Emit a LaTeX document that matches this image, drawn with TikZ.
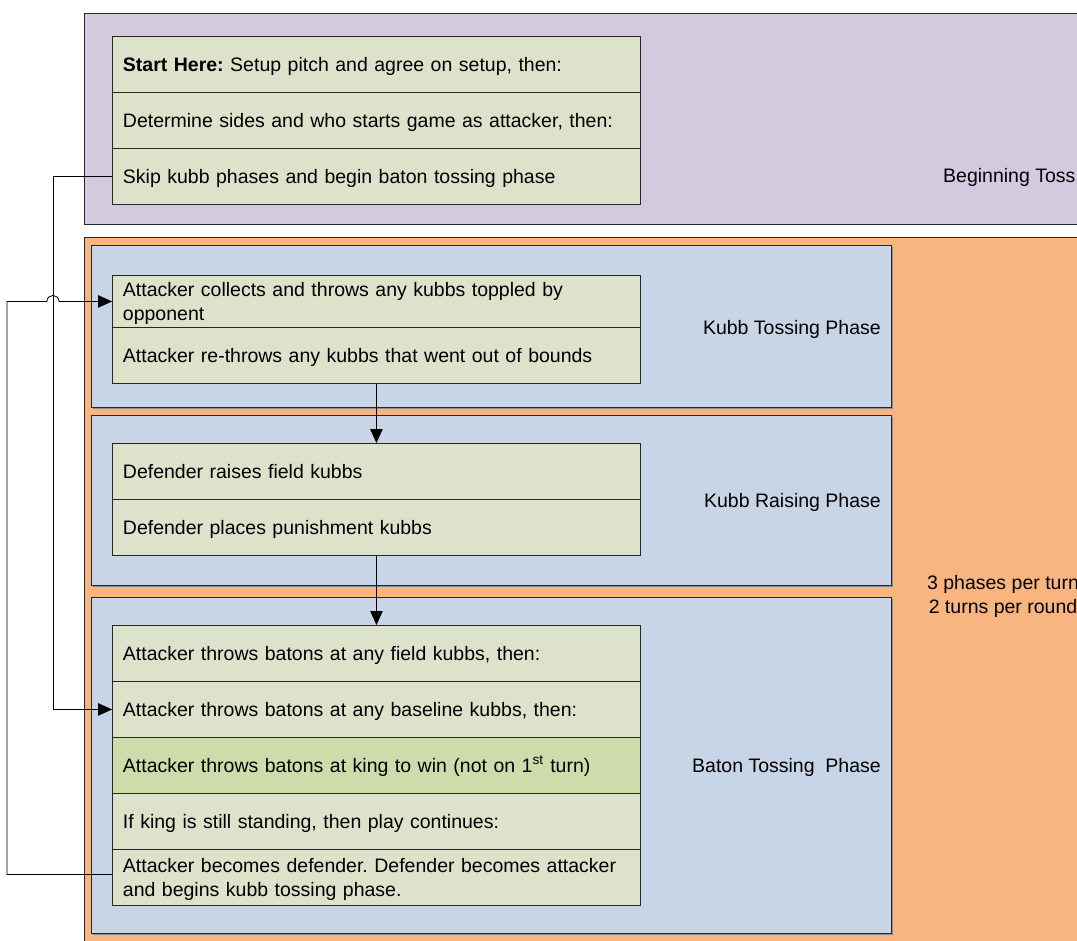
\documentclass[tikz,border=0pt]{standalone}
\usepackage{fontspec}
\setmainfont{Liberation Sans}
\usetikzlibrary{arrows.meta}
\definecolor{purplefill}{RGB}{211,202,224}
\definecolor{orangefill}{RGB}{248,181,128}
\definecolor{bluefill}{RGB}{200,213,230}
\definecolor{greenfill}{RGB}{221,226,203}
\definecolor{greenhi}{RGB}{205,220,170}
\definecolor{edge}{RGB}{40,40,40}
\newcommand\rowfont{\fontsize{19.5}{23.5}\selectfont}
\frenchspacing
\tikzset{
  region/.style={draw=edge, line width=1pt},
  phasebox/.style={draw=edge, fill=bluefill, line width=1pt},
  phaseshadow/.style={fill=black!45},
  row/.style={draw=edge, fill=greenfill, line width=0.9pt, anchor=north west,
    minimum width=528pt, text width=507pt, inner xsep=10.5pt, inner ysep=0pt,
    align=left, font=\rowfont, minimum height=56pt,
    execute at begin node={\rule{0pt}{18pt}},
    execute at end node={\rule[-4pt]{0pt}{4pt}}},
  lbl/.style={font=\rowfont, inner sep=0pt},
  conn/.style={draw=black, line width=0.8pt, -{Triangle[length=14pt,width=12.5pt]}}
}
\begin{document}
\begin{tikzpicture}[x=1pt,y=-1pt]
\clip (0,0) rectangle (1077,941);
\fill[white] (0,0) rectangle (1077,941);
% regions
\draw[region, fill=purplefill] (84,14) rectangle (1100,225);
\draw[region, fill=orangefill] (84,238) rectangle (1100,960);
% phase boxes
\fill[phaseshadow] (92.5,247.5) rectangle (892.5,409.5);
\draw[phasebox] (91,246) rectangle (891,408);
\fill[phaseshadow] (92.5,417.5) rectangle (892.5,586.5);
\draw[phasebox] (91,416) rectangle (891,585);
\fill[phaseshadow] (92.5,598.5) rectangle (892.5,934.5);
\draw[phasebox] (91,597) rectangle (891,933);
% beginning stack
\node[row] (s1) at (112,36) {\textbf{Start Here:} Setup pitch and agree on setup, then:};
\node[row] (s2) at (112,92) {Determine sides and who starts game as attacker, then:};
\node[row] (s3) at (112,148) {Skip kubb phases and begin baton tossing phase};
% kubb tossing
\node[row, minimum height=52pt] (k1) at (112,275) {Attacker collects and throws any kubbs toppled by\\opponent};
\node[row] (k2) at (112,327) {Attacker re-throws any kubbs that went out of bounds};
% kubb raising
\node[row] (r1) at (112,443) {Defender raises field kubbs};
\node[row] (r2) at (112,499) {Defender places punishment kubbs};
% baton tossing
\node[row] (b1) at (112,625) {Attacker throws batons at any field kubbs, then:};
\node[row] (b2) at (112,681) {Attacker throws batons at any baseline kubbs, then:};
\node[row, fill=greenhi] (b3) at (112,737) {Attacker throws batons at king to win (not on 1\textsuperscript{st} turn)};
\node[row] (b4) at (112,793) {If king is still standing, then play continues:};
\node[row] (b5) at (112,849) {Attacker becomes defender. Defender becomes attacker\\and begins kubb tossing phase.};
% labels
\node[lbl, anchor=west] (lbeg) at (943,177) {Beginning Toss};
\node[lbl, anchor=east] (lkt) at (881,329) {Kubb Tossing Phase};
\node[lbl, anchor=east] (lkr) at (881,502) {Kubb Raising Phase};
\node[lbl, anchor=east] (lbt) at (881,767) {Baton Tossing~ Phase};
\node[lbl, align=center, font=\fontsize{19.5}{24}\selectfont] (lturn) at (1003,596) {3 phases per turn\\2 turns per round};
% connectors
\coordinate (L1) at (53,0);
\coordinate (L2) at (7,0);
\draw[conn] (k2.south) -- (r1.north);
\draw[conn] (r2.south) -- (b1.north);
\draw[conn] (s3.west) -| (L1 |- b2.west) -- (b2.west);
\draw[conn] ([yshift=3pt]b5.west) -| (L2 |- k1.west) -- ([xshift=-6pt]L1 |- k1.west)
  .. controls +(0,-8) and +(0,-8) .. +(12,0) -- (k1.west);
\end{tikzpicture}
\end{document}
